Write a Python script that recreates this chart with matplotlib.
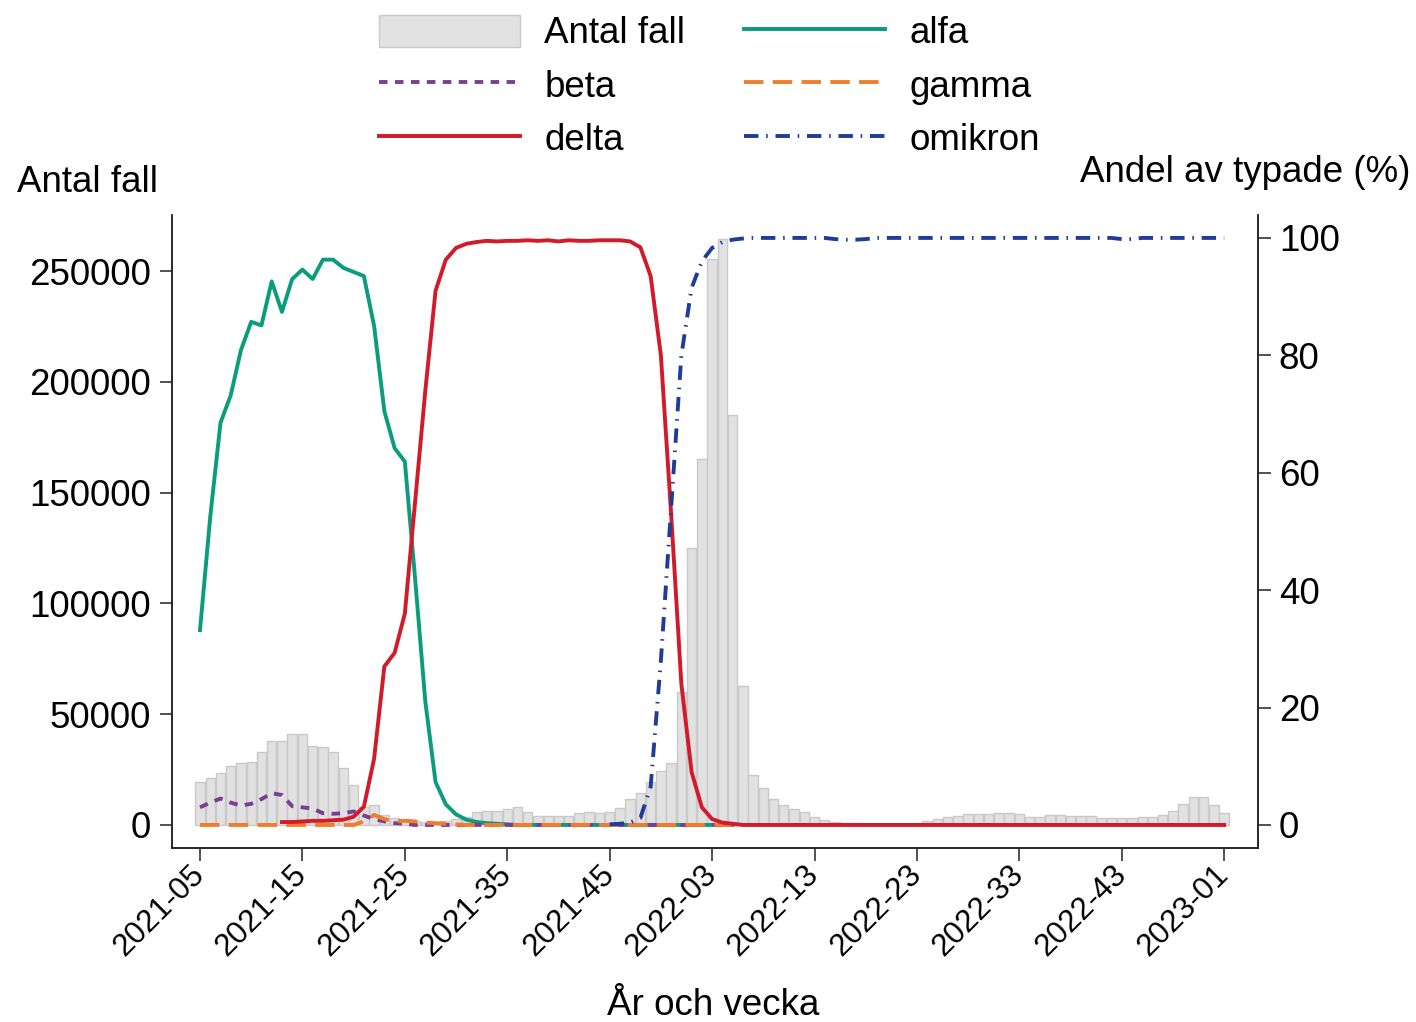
import numpy as np
import matplotlib
matplotlib.use('Agg')
import matplotlib.pyplot as plt
from matplotlib.patches import Patch

plt.rcParams['font.family'] = ['Liberation Sans', 'DejaVu Sans']
FS = 26.5

# week labels 2021-05 .. 2023-01
weeks = [f"2021-{w:02d}" for w in range(5, 53)] + \
        [f"2022-{w:02d}" for w in range(1, 53)] + ["2023-01"]

# weekly case counts (thousands)
cases_k = [19.5, 21.1, 23.6, 26.6, 27.8, 28.6, 33.1, 37.9, 37.9, 41.1,
           41.1, 35.6, 35.0, 33.1, 25.6, 18.0, 8.0, 9.0, 4.5, 3.0,
           2.5, 2.0, 1.5, 1.5, 2.0, 2.5, 3.5, 6.0, 6.5, 6.5,
           7.0, 8.3, 6.0, 4.0, 4.0, 4.0, 4.0, 5.3, 6.0, 5.3,
           6.0, 7.7, 11.7, 14.4, 19.5, 24.5, 28.0, 60.0, 125.0, 165.0,
           255.6, 264.5, 185.0, 62.7, 22.5, 16.5, 11.5, 9.2, 7.1, 5.9,
           3.7, 2.4, 1.3, 1.0, 0.8, 0.6, 0.4, 0.3, 0.3, 0.3,
           0.5, 1.9, 2.7, 3.5, 4.0, 5.0, 5.0, 5.0, 5.6, 5.6,
           5.0, 3.5, 3.5, 4.5, 4.5, 4.0, 4.0, 4.0, 3.0, 3.0,
           3.0, 3.0, 3.5, 3.5, 4.5, 6.5, 9.5, 12.8, 12.8, 9.0,
           5.6]

# share of typed samples (%), None where not reported
alfa = [33.2, 52.5, 68.5, 73.2, 80.9, 85.7, 85.1, 92.6, 87.4, 93.0,
        94.6, 93.0, 96.3, 96.3, 94.9, 94.2, 93.5, 85.0, 70.5, 64.2,
        61.9, 42.0, 21.0, 7.3, 3.5, 1.8, 0.9, 0.5, 0.3, 0.2,
        0.1] + [0.0] * 22 + [None] * 48
beta = [3.0, 3.8, 4.5, 3.8, 3.3, 3.6, 4.4, 5.4, 5.1, 3.2,
        3.0, 2.8, 2.0, 1.9, 2.0, 2.3, 1.6, 1.0, 0.6, 0.3,
        0.2] + [0.0] * 32 + [None] * 48
gamma = [0.0] * 16 + [0.6, 1.7, 1.0, 0.6, 0.7, 0.6, 0.4, 0.3, 0.2, 0.1] + \
        [0.0] * 27 + [None] * 48
delta = [None] * 8 + [0.5, 0.5, 0.6, 0.7, 0.7, 0.8, 0.9, 1.4, 3.1, 11.3,
                      27.0, 29.3, 36.0, 55.0, 74.0, 91.0, 96.3, 98.3, 99.0, 99.3,
                      99.5, 99.4, 99.5, 99.5, 99.6, 99.5, 99.6, 99.4, 99.6, 99.5,
                      99.5, 99.6, 99.6, 99.6, 99.4, 98.4, 93.5, 80.0, 53.0, 24.0,
                      9.0, 3.0, 1.0, 0.4, 0.2] + [0.0] * 48
omikron = [None] * 40 + [0.1, 0.2, 0.4, 1.2, 6.5, 28.0, 54.0, 80.0, 91.5, 96.0,
                         98.3, 99.3, 99.7, 99.9, 100, 100, 100, 100, 100, 100,
                         100, 100, 99.8, 99.7, 99.7, 99.8, 100, 100, 100, 100,
                         100, 100, 100, 100, 100, 100, 100, 100, 100, 100,
                         100, 100, 100, 100, 100, 100, 100, 100, 100, 100,
                         99.8, 99.8, 100, 100, 100, 100, 100, 100, 100, 100,
                         100]

x = np.arange(len(weeks))
cases = np.array(cases_k) * 1000
def arr(v):
    return np.array([np.nan if a is None else a for a in v], dtype=float)

fig = plt.figure(figsize=(14.16, 10.22), dpi=100)
ax = fig.add_axes([0.1215, 0.1703, 0.7669, 0.6193])
ax2 = ax.twinx()

ax.bar(x, cases, width=0.92, color='#e1e1e1', edgecolor='#c9c9c9', linewidth=1, zorder=1)

lw = 2.8
l_alfa, = ax2.plot(x, arr(alfa), color='#0a9c7c', lw=lw)
l_beta, = ax2.plot(x, arr(beta), color='#7b3e96', lw=lw, dashes=(2.2, 1.9))
l_gamma, = ax2.plot(x, arr(gamma), color='#f07d2c', lw=lw, dashes=(5.0, 2.4))
l_delta, = ax2.plot(x, arr(delta), color='#d11a2a', lw=lw)
l_omik, = ax2.plot(x, arr(omikron), color='#1f3c98', lw=lw, dashes=(3.7, 2.0, 0.4, 2.0))

ax.set_xlim(-2.73, 103.3)
ax.set_ylim(-10380, 275270)
ax2.set_ylim(-3.92, 103.9)

ax.set_yticks([0, 50000, 100000, 150000, 200000, 250000])
ax.set_yticklabels(['0', '50000', '100000', '150000', '200000', '250000'])
ax2.set_yticks([0, 20, 40, 60, 80, 100])
ticks = list(range(0, 101, 10))
ax.set_xticks(ticks)
ax.set_xticklabels([weeks[i] for i in ticks], rotation=45, ha='right',
                   rotation_mode='anchor', va='center')

for a in (ax, ax2):
    a.spines['top'].set_visible(False)
    for s in ('left', 'right', 'bottom'):
        a.spines[s].set_linewidth(1.1)
        a.spines[s].set_color('#222222')
    a.tick_params(labelsize=FS, length=9, width=1.1, color='#222222', pad=6)
ax.tick_params(axis='x', labelsize=22.5, pad=7)

fig.text(0.012, 0.821, 'Antal fall', fontsize=FS, ha='left', va='center')
fig.text(0.996, 0.8317, 'Andel av typade (%)', fontsize=FS, ha='right', va='center')
fig.text(0.504, 0.016, 'År och vecka', fontsize=FS, ha='center', va='center')

bar_h = Patch(facecolor='#e1e1e1', edgecolor='#c9c9c9', linewidth=1)
handles = [bar_h, l_beta, l_delta, l_alfa, l_gamma, l_omik]
labels = ['Antal fall', 'beta', 'delta', 'alfa', 'gamma', 'omikron']
fig.legend(handles, labels, ncol=2, loc='upper center', bbox_to_anchor=(0.501, 1.018),
           frameon=False, fontsize=FS, handlelength=3.84, handleheight=0.97,
           handletextpad=0.65, columnspacing=1.6, labelspacing=0.45)

fig.savefig('out.png', dpi=100)
